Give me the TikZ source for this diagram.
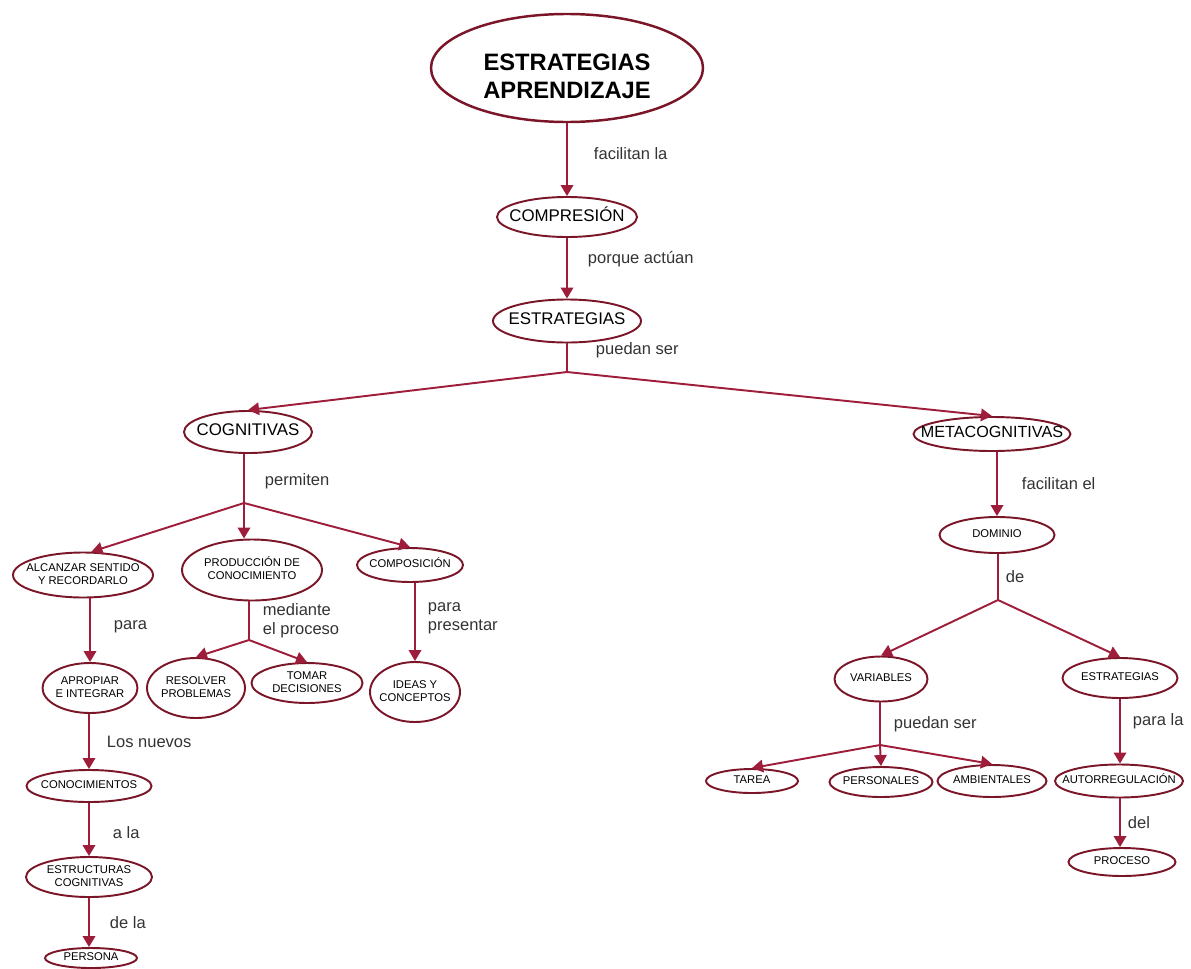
\documentclass[tikz,border=0pt]{standalone}
\usepackage{fontspec}
\setmainfont{Liberation Sans}
\usepackage{tikz}
\usetikzlibrary{shapes.geometric}
\usetikzlibrary{arrows.meta}
\usepackage{xcolor}
\definecolor{C0}{HTML}{9E1D3B}
\definecolor{C1}{HTML}{7A1628}
\newcommand{\inell}[1]{\makebox[0pt]{\begin{tabular}{@{}c@{}}#1\end{tabular}}}

\begin{document}
\begin{tikzpicture}[x=0.2mm,y=-0.2mm,line width=1.1pt,>={Triangle[length=2.2mm,width=2.5mm]}]

\def\u{0.2mm}
\tikzset{
concept/.style = {ellipse, draw=C1, line width=1.1pt, inner sep=0pt, fill=white},
sz/.style 2 args = {minimum width=#1*\u, minimum height=#2*\u},
small/.style = {concept, font=\fontsize{6.4}{7.4}\selectfont},
mid/.style = {concept, font=\fontsize{9.6}{10.5}\selectfont},
big/.style = {concept, line width=1.4pt, font=\bfseries\fontsize{13.5}{16}\selectfont},
link/.style = {draw=C0},
lab/.style = {anchor=west, xshift=20*\u, font=\fontsize{9.4}{10.8}\selectfont, text=black!80, align=left, inner sep=0pt}
}

\useasboundingbox (0,0) rectangle (1191,968);

% top of the map
\node (top)    at (567,68)  [big, sz={272}{108}] {\raisebox{-10pt}[0pt][0pt]{\inell{ESTRATEGIAS\\APRENDIZAJE}}};
\node (compr)  at (567,217) [mid, sz={140}{40}]  {\inell{COMPRESIÓN}};
\node (estr)   at (567,321) [mid, sz={148}{43}]  {\inell{ESTRATEGIAS}};
\node (cog)    at (248,432) [mid, sz={128}{42}]  {\inell{COGNITIVAS}};
\node (meta)   at (992,434) [mid, sz={157}{34}, font=\fontsize{9.2}{10}\selectfont] {\inell{METACOGNITIVAS}};

% cognitivas
\node (alc)    at (83,575)  [small, sz={140}{45}] {\inell{ALCANZAR SENTIDO\\Y RECORDARLO}};
\node (prod)   at (252,570) [small, sz={140}{61}] {\inell{PRODUCCIÓN DE\\CONOCIMIENTO}};
\node (comp)   at (410,565) [small, sz={106}{34}] {\inell{COMPOSICIÓN}};
\node (apro)   at (90,688)  [small, sz={95}{50}]  {\inell{APROPIAR\\E INTEGRAR}};
\node (res)    at (196,688) [small, sz={98}{60}]  {\inell{RESOLVER\\PROBLEMAS}};
\node (tom)    at (307,683) [small, sz={111}{40}] {\inell{TOMAR\\DECISIONES}};
\node (ideas)  at (415,692) [small, sz={90}{60}]  {\inell{IDEAS Y\\CONCEPTOS}};
\node (conoc)  at (89,786)  [small, sz={125}{32}] {\inell{CONOCIMIENTOS}};
\node (estruc) at (89,877)  [small, sz={126}{40}] {\inell{ESTRUCTURAS\\COGNITIVAS}};
\node (pers)   at (91,958)  [small, sz={92}{20}]  {\inell{PERSONA}};

% metacognitivas
\node (dom)    at (997,535)  [small, sz={115}{36}] {\inell{DOMINIO}};
\node (var)    at (881,679)  [small, sz={93}{45}]  {\inell{VARIABLES}};
\node (estr2)  at (1120,678) [small, sz={115}{40}] {\inell{ESTRATEGIAS}};
\node (tarea)  at (752,781)  [small, sz={92}{24}]  {\inell{TAREA}};
\node (perso)  at (881,782)  [small, sz={103}{30}] {\inell{PERSONALES}};
\node (amb)    at (992,781)  [small, sz={109}{32}] {\inell{AMBIENTALES}};
\node (auto)   at (1119,781) [small, sz={128}{33}] {\inell{AUTORREGULACIÓN}};
\node (proc)   at (1122,862) [small, sz={107}{28}] {\inell{PROCESO}};

% branch points
\coordinate (j1) at (567,372);
\coordinate (j2) at (244,503);
\coordinate (j3) at (249,640);
\coordinate (j4) at (998,600);
\coordinate (j5) at (880,745);

\draw[link,->] (top) -- node[lab, pos=0.42, xshift=6*\u] {facilitan la} (compr);
\draw[link,->] (compr) -- node[lab, pos=0.35] {porque actúan} (estr);
\draw[link] (estr.south -| j1) -- node[lab, pos=0.25, xshift=8*\u] {puedan ser} (j1);
\draw[link,->] (j1) -- (cog.north);
\draw[link,->] (j1) -- (meta.north);

\draw[link] (cog.south -| j2) -- node[lab, pos=0.55] {permiten} (j2);
\draw[link,->] (j2) -- (alc.70);
\draw[link,->] (j2) -- (prod.north -| j2);
\draw[link,->] (j2) -- (comp.north);

\draw[link,->] (apro.north |- alc.south) -- node[lab, pos=0.45, xshift=3*\u] {para} (apro.north);
\draw[link] (prod.south -| j3) -- node[lab, pos=0.5, xshift=-7*\u] {mediante\\el proceso} (j3);
\draw[link,->] (j3) -- (res.north);
\draw[link,->] (j3) -- (tom.north);
\draw[link,->] (ideas.north |- comp.south) -- node[lab, pos=0.45, xshift=-8*\u] {para\\presentar} (ideas.north);

\draw[link,->] (apro.south -| conoc) -- node[lab, pos=0.5, xshift=-3*\u] {Los nuevos} (conoc.north);
\draw[link,->] (conoc) -- node[lab, pos=0.55, xshift=3*\u] {a la} (estruc);
\draw[link,->] (estruc.south) -- node[lab, pos=0.5] {de la} (estruc.south |- pers.north);

\draw[link,->] (meta.south -| dom) -- node[lab, pos=0.5, xshift=4*\u] {facilitan el} (dom.north);
\draw[link] (dom.south -| j4) -- node[lab, pos=0.5, xshift=-13*\u] {de} (j4);
\draw[link,->] (j4) -- (var.north);
\draw[link,->] (j4) -- (estr2.north);

\draw[link] (var.south -| j5) -- node[lab, pos=0.5, xshift=-7*\u] {puedan ser} (j5);
\draw[link,->] (j5) -- (tarea.north);
\draw[link,->] (j5) -- (perso.north);
\draw[link,->] (j5) -- (amb.north);

\draw[link,->] (estr2.south) -- node[lab, pos=0.35, xshift=-8*\u] {para la} (estr2.south |- auto.north);
\draw[link,->] (auto.south -| estr2) -- node[lab, pos=0.5, xshift=-13*\u] {del} (proc.north -| estr2);

\end{tikzpicture}
\end{document}
